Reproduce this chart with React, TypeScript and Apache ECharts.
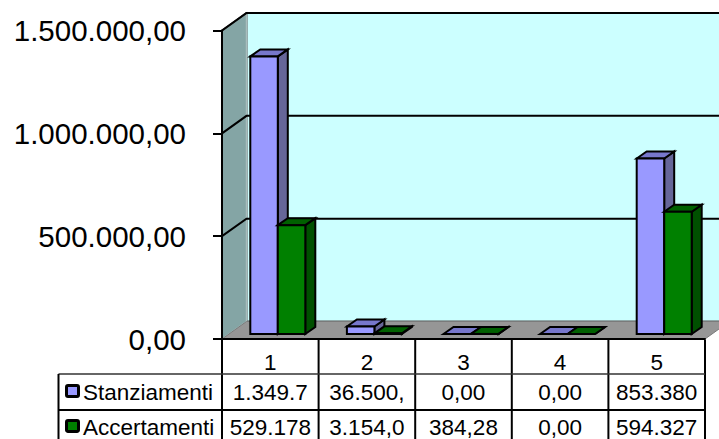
import React, { useEffect, useRef } from "react";
import * as echarts from "echarts";

const categories = ["1", "2", "3", "4", "5"];
const stanziamenti = [1349700, 36500, 0, 0, 853380];
const accertamenti = [529178, 3154, 384.28, 0, 594327];
const stanziamentiLabels = ["1.349.7", "36.500,", "0,00", "0,00", "853.380"];
const accertamentiLabels = ["529.178", "3.154,0", "384,28", "0,00", "594.327"];
const yTicks = [0, 500000, 1000000, 1500000];
const yTickLabels = ["0,00", "500.000,00", "1.000.000,00", "1.500.000,00"];

const FONT = "Liberation Sans, Arial, sans-serif";
const DX = 24.5;
const DY = -17.5;
const BAR_W = 27.5;
const BAR_DX = 10;
const BAR_DY = -7;
const BASE_DX = 7.5;
const BASE_DY = -5;

function poly(points: number[][], fill: string, stroke: string, lineWidth: number) {
  return {
    type: "polygon",
    shape: { points },
    style: { fill, stroke, lineWidth, lineJoin: "miter" },
  };
}

function wallsItem(params: any) {
  const c = params.coordSys;
  const l = c.x, t = c.y, b = c.y + c.height, r = c.x + c.width;
  return {
    type: "group",
    children: [
      poly([[l + DX, t + DY], [r + DX, t + DY], [r + DX, b + DY], [l + DX, b + DY]], "#CCFFFF", "#555555", 2),
      poly([[l, t], [l + DX, t + DY], [l + DX, b + DY], [l, b]], "#84A5A5", "#A9BDBD", 1.5),
      poly([[l, b], [l + DX, b + DY], [r + DX, b + DY], [r, b]], "#969696", "#7A7A7A", 1),
      {
        type: "polyline",
        shape: { points: [[l, t], [l + DX, t + DY]] },
        style: { stroke: "#555555", lineWidth: 2, fill: "none" },
      },
    ],
  };
}

function gridItem(params: any, api: any) {
  const c = params.coordSys;
  const y = api.coord([0, api.value(1)])[1];
  return {
    type: "polyline",
    shape: { points: [[c.x, y], [c.x + DX, y + DY], [c.x + c.width + DX, y + DY]] },
    style: { stroke: "#000000", lineWidth: 2, fill: "none" },
  };
}

function barItem(colors: string[]) {
  return (params: any, api: any) => {
    const cat = api.value(0);
    const top = api.coord([cat, api.value(1)]);
    const zero = api.coord([cat, 0]);
    const offset = params.seriesIndex === 2 ? -BAR_W : 0;
    const x0 = zero[0] + BASE_DX + offset;
    const x1 = x0 + BAR_W;
    const yb = zero[1] + BASE_DY;
    const yt = top[1] + BASE_DY;
    return {
      type: "group",
      children: [
        poly([[x1, yb], [x1 + BAR_DX, yb + BAR_DY], [x1 + BAR_DX, yt + BAR_DY], [x1, yt]], colors[1], "#000000", 2),
        poly([[x0, yt], [x0 + BAR_DX, yt + BAR_DY], [x1 + BAR_DX, yt + BAR_DY], [x1, yt]], colors[2], "#000000", 2),
        poly([[x0, yb], [x1, yb], [x1, yt], [x0, yt]], colors[0], "#000000", 2),
      ],
    };
  };
}

function cellItem(labels: string[], cy: number) {
  return (params: any, api: any) => {
    const x = api.coord([api.value(0), 0])[0];
    return {
      type: "text",
      style: {
        text: labels[params.dataIndex],
        x,
        y: cy,
        fill: "#000000",
        font: `22.5px ${FONT}`,
        textAlign: "center",
        textVerticalAlign: "middle",
      },
    };
  };
}

const LEFT = 222;
const RIGHT = 705;
const TABLE_L = 58.5;
const ROW1 = 374;
const ROW2 = 410;
const BOTTOM = 439;
const COLS = 5;

function tableLines() {
  const stroke = { stroke: "#000000", lineWidth: 2 };
  const lines: any[] = [];
  for (let i = 0; i <= COLS; i++) {
    const x = LEFT + ((RIGHT - LEFT) * i) / COLS;
    lines.push({ type: "line", z: 10, shape: { x1: x, y1: 340, x2: x, y2: BOTTOM }, style: stroke });
  }
  lines.push({ type: "line", z: 10, shape: { x1: TABLE_L, y1: ROW1, x2: RIGHT, y2: ROW1 }, style: { stroke: "#333333", lineWidth: 1.5 } });
  lines.push({ type: "line", z: 10, shape: { x1: TABLE_L, y1: ROW2, x2: RIGHT, y2: ROW2 }, style: stroke });
  lines.push({ type: "line", z: 10, shape: { x1: TABLE_L, y1: ROW1, x2: TABLE_L, y2: BOTTOM }, style: stroke });
  return lines;
}

function legendRow(name: string, color: string, keyY: number, textY: number) {
  return [
    {
      type: "rect",
      z: 10,
      shape: { x: 66.5, y: keyY, width: 12, height: 11, r: 1.5 },
      style: { fill: color, stroke: "#000000", lineWidth: 3 },
    },
    {
      type: "text",
      z: 10,
      style: {
        text: name,
        x: 83,
        y: textY,
        fill: "#000000",
        font: `22.5px ${FONT}`,
        textAlign: "left",
        textVerticalAlign: "middle",
      },
    },
  ];
}

export default function App() {
  const ref = useRef<HTMLDivElement>(null);
  useEffect(() => {
    document.body.style.margin = "0";
    const chart = echarts.init(ref.current!, null, { renderer: "svg" });
    const points = (vals: number[]) => vals.map((v, i) => [i, v]);
    chart.setOption({
      animation: false,
      backgroundColor: "#FFFFFF",
      grid: { left: LEFT, right: 719 - RIGHT, top: 30.5, height: 308.5, containLabel: false },
      xAxis: {
        type: "category",
        data: categories,
        z: 5,
        axisLine: { show: true, lineStyle: { color: "#000000", width: 2 } },
        axisTick: { show: false },
        axisLabel: { color: "#000000", fontFamily: FONT, fontSize: 22.5, margin: 12 },
        splitLine: { show: false },
      },
      yAxis: {
        type: "value",
        min: 0,
        max: 1500000,
        interval: 500000,
        z: 5,
        axisLine: { show: true, lineStyle: { color: "#000000", width: 2 } },
        axisTick: { show: true, length: 9, lineStyle: { color: "#000000", width: 2 } },
        axisLabel: {
          color: "#000000",
          fontFamily: FONT,
          fontSize: 29.5,
          margin: 36,
          padding: [2, 0, 0, 0],
          formatter: (v: number) => yTickLabels[yTicks.indexOf(v)],
        },
        splitLine: { show: false },
      },
      graphic: [
        ...tableLines(),
        ...legendRow("Stanziamenti", "#9999FF", 385.5, 392),
        ...legendRow("Accertamenti", "#008000", 420.5, 427),
      ],
      series: [
        { type: "custom", z: 1, silent: true, data: [[0, 0]], renderItem: wallsItem },
        { type: "custom", z: 2, silent: true, data: yTicks.filter((v) => v > 0).map((v) => [0, v]), renderItem: gridItem },
        { type: "custom", z: 3, name: "Stanziamenti", data: points(stanziamenti), renderItem: barItem(["#9999FF", "#666699", "#7777CC"]) },
        { type: "custom", z: 4, name: "Accertamenti", data: points(accertamenti), renderItem: barItem(["#008000", "#005000", "#006000"]) },
        { type: "custom", z: 6, silent: true, data: points(stanziamenti), renderItem: cellItem(stanziamentiLabels, 392) },
        { type: "custom", z: 6, silent: true, data: points(accertamenti), renderItem: cellItem(accertamentiLabels, 427) },
      ],
    });
    return () => chart.dispose();
  }, []);
  return <div ref={ref} style={{ width: 719, height: 439, overflow: "hidden" }} />;
}
